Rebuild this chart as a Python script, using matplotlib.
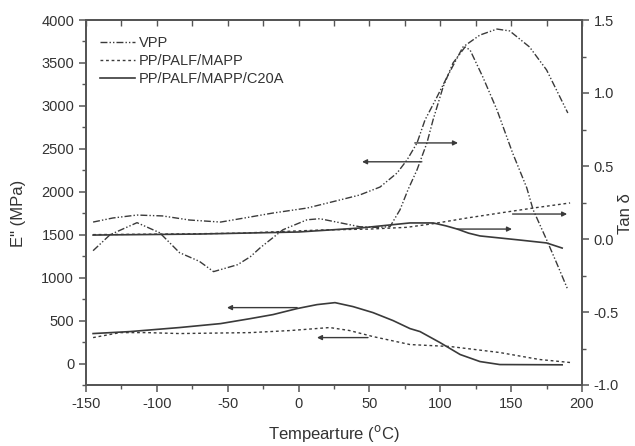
import matplotlib
matplotlib.use("Agg")
import matplotlib.pyplot as plt
from matplotlib.ticker import MultipleLocator

plt.rcParams["font.family"] = ["Liberation Sans", "DejaVu Sans"]
plt.rcParams["axes.unicode_minus"] = False

# E'' (MPa), left axis
vpp_e_x = [-145, -133, -114, -98, -84, -70, -60, -43, -34, -27, -11, 6, 15, 29, 43, 55,
           64.5, 71.6, 77.2, 83.6, 90.6, 94.9, 102, 109, 117.5, 121, 130, 140, 151, 161,
           165.5, 175, 182, 190]
vpp_e_y = [1314, 1500, 1640, 1523, 1291, 1190, 1070, 1151, 1244, 1349, 1558, 1674, 1686,
           1640, 1593, 1585, 1593, 1791, 2023, 2256, 2570, 2837, 3221, 3500, 3686, 3651,
           3337, 2953, 2453, 2047, 1791, 1442, 1174, 860]

mapp_e_x = [-145, -126, -107, -84, -34, -6, 22, 36, 52.5, 78.6, 107, 142, 170, 191.6]
mapp_e_y = [302, 360, 360, 349, 360, 384, 419, 384, 314, 221, 198, 128, 47, 12]

c20a_e_x = [-145, -119, -84, -55, -34, -18, -1, 13, 25.7, 38.4, 52.5, 66.7, 78.6, 85.7,
            99.8, 114, 128, 142, 186]
c20a_e_y = [349, 372, 419, 465, 523, 570, 640, 686, 709, 663, 593, 500, 407, 372,
            244, 105, 23, -12, -15]

# tan delta, right axis
vpp_t_x = [-145, -131, -114, -96, -77, -55, -34, -18, 6, 29, 43, 57.5, 69.5, 76.5, 83.6,
           89.2, 97, 104.8, 116, 128, 140, 149, 163, 175, 190]
vpp_t_y = [0.116, 0.144, 0.164, 0.158, 0.130, 0.116, 0.151, 0.178, 0.212, 0.267, 0.301,
           0.356, 0.452, 0.541, 0.658, 0.815, 0.96, 1.110, 1.315, 1.397, 1.438, 1.425,
           1.315, 1.158, 0.863]

mapp_t_x = [-145, -80, -41, 17, 50, 76.5, 95, 119, 142, 165.5, 191.6]
mapp_t_y = [0.03, 0.035, 0.04, 0.062, 0.068, 0.08, 0.105, 0.144, 0.178, 0.212, 0.247]

c20a_t_x = [-145, -70, 0, 43, 78.6, 95, 104, 112, 120, 128, 142, 156, 175, 186]
c20a_t_y = [0.027, 0.034, 0.048, 0.075, 0.11, 0.11, 0.09, 0.068, 0.04, 0.021, 0.007,
            -0.007, -0.027, -0.062]

labels = ["VPP", "PP/PALF/MAPP", "PP/PALF/MAPP/C20A"]

lc = "#3a3a3a"
dashdot = (0, (5, 1.5, 1, 1.5, 1, 1.5))
dotted = (0, (2, 2))

fig = plt.figure(figsize=(6.35, 4.46), dpi=100)
ax = fig.add_axes([86/635, 1 - 385/446, 496/635, 365/446])
ax2 = ax.twinx()

l1, = ax.plot(vpp_e_x, vpp_e_y, color=lc, lw=1.0, linestyle=dashdot)
l2, = ax.plot(mapp_e_x, mapp_e_y, color=lc, lw=1.0, linestyle=dotted)
l3, = ax.plot(c20a_e_x, c20a_e_y, color=lc, lw=1.2, linestyle="-")
ax2.plot(vpp_t_x, vpp_t_y, color=lc, lw=1.0, linestyle=dashdot)
ax2.plot(mapp_t_x, mapp_t_y, color=lc, lw=1.0, linestyle=dotted)
ax2.plot(c20a_t_x, c20a_t_y, color=lc, lw=1.2, linestyle="-")

ax.set_xlim(-150, 200)
ax.set_ylim(-250, 4000)
ax2.set_ylim(-1.0, 1.5)

# arrows showing which axis each curve belongs to
aprops = dict(arrowstyle="-|>", color=lc, lw=1.0, mutation_scale=7, shrinkA=0, shrinkB=0)
for (x0, x1, y) in [(87, 44.8, 2349), (-1, -50.5, 651), (49, 13, 302)]:
    ax.annotate("", xy=(x1, y), xytext=(x0, y), arrowprops=aprops)
for (x0, x1, y) in [(82, 112.5, 0.658), (112, 150.6, 0.068), (151, 189.5, 0.171)]:
    ax2.annotate("", xy=(x1, y), xytext=(x0, y), arrowprops=aprops)

ax.xaxis.set_major_locator(MultipleLocator(50))
ax.xaxis.set_minor_locator(MultipleLocator(25))
ax.yaxis.set_major_locator(MultipleLocator(500))
ax.yaxis.set_minor_locator(MultipleLocator(250))
ax2.yaxis.set_major_locator(MultipleLocator(0.5))
ax2.yaxis.set_minor_locator(MultipleLocator(0.25))
ax2.yaxis.set_major_formatter(matplotlib.ticker.FormatStrFormatter("%.1f"))

for a in (ax, ax2):
    for s in a.spines.values():
        s.set_linewidth(1.3)
        s.set_color("#555555")
    a.tick_params(which="major", direction="out", length=5, width=1.1, color="#555555",
                  labelsize=10.5, labelcolor="#333333")
    a.tick_params(which="minor", direction="out", length=3, width=1.0, color="#555555")

top = ax.secondary_xaxis("top")
top.xaxis.set_major_locator(MultipleLocator(50))
top.xaxis.set_minor_locator(MultipleLocator(25))
top.tick_params(which="both", direction="in", length=4, width=1.0, color="#555555",
                labeltop=False)
top.spines["top"].set_linewidth(1.3)
top.spines["top"].set_color("#555555")

ax.set_xlabel(r"Tempearture ($^{\rm o}$C)", fontsize=12, color="#333333")
ax.set_ylabel('E" (MPa)', fontsize=12, color="#333333")
ax2.set_ylabel("Tan δ", fontsize=12, color="#333333")
ax.xaxis.set_label_coords(0.5, -0.105)
ax.yaxis.set_label_coords(-0.12, 0.47)
ax2.yaxis.set_label_coords(1.072, 0.47)

leg = ax.legend([l1, l2, l3], labels, loc="upper left", bbox_to_anchor=(0.016, 0.973),
                frameon=False, fontsize=10.5, handlelength=2.4, handletextpad=0.3,
                labelspacing=0.3, borderaxespad=0)
for t in leg.get_texts():
    t.set_color("#333333")

fig.savefig("out.png", dpi=100)
